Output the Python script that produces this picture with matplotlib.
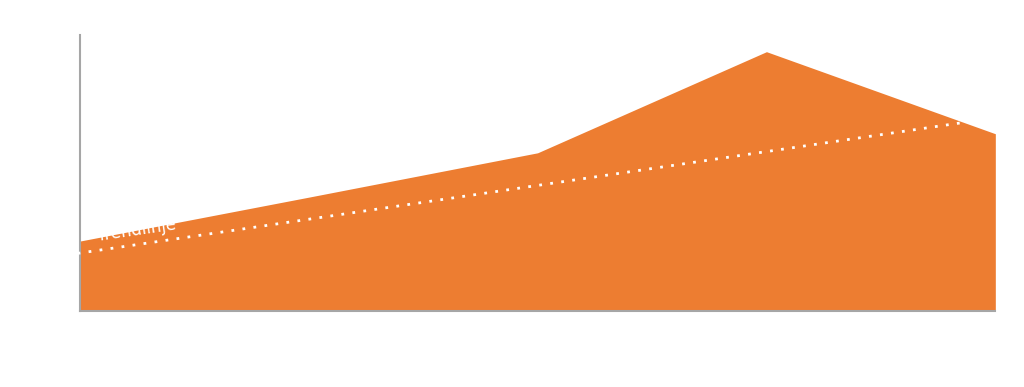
import numpy as np
import matplotlib.pyplot as plt

years = ['2020', '2021', '2022', '2023', '2024']
values = [15.8, 25.7, 35.7, 58.5, 40.0]
trend_ends = [13.1, 43.6]
yticks = [0, 10, 20, 30, 40, 50, 60]

orange = '#ED7D31'
x = np.arange(len(years))

fig = plt.figure(figsize=(10.24, 3.87), dpi=100)
ax = fig.add_axes([0.078, 0.196, 0.894, 0.714])

ax.fill_between(x, values, 0, color=orange, linewidth=0)

# trendline runs a little past the last year
tx = np.array([0, len(years) - 1])
slope = (trend_ends[1] - trend_ends[0]) / (tx[1] - tx[0])
tx_ext = np.array([-0.01, tx[1] + 0.1])
ax.plot(tx_ext, trend_ends[0] + slope * tx_ext, color='white',
        linestyle=(0, (1, 3)), linewidth=2, clip_on=False, zorder=5)
ax.text(0.08, trend_ends[0] + slope * 0.08 + 1.2, 'Trendlinje', color='white',
        fontsize=12, rotation=8.4, rotation_mode='anchor', ha='left', va='bottom')

ax.set_xlim(0, len(years) - 1)
ax.set_ylim(0, 62.3)
ax.set_xticks(x)
ax.set_xticklabels(years)
ax.set_yticks(yticks)
ax.set_yticklabels([f'{v}%' for v in yticks])
ax.tick_params(colors='white', labelcolor='white', length=0, labelsize=12, pad=12)

for side in ['top', 'right']:
    ax.spines[side].set_visible(False)
for side in ['left', 'bottom']:
    ax.spines[side].set_color('#A6A6A6')
    ax.spines[side].set_linewidth(1.5)

fig.savefig('out.png', dpi=100, facecolor='white')
